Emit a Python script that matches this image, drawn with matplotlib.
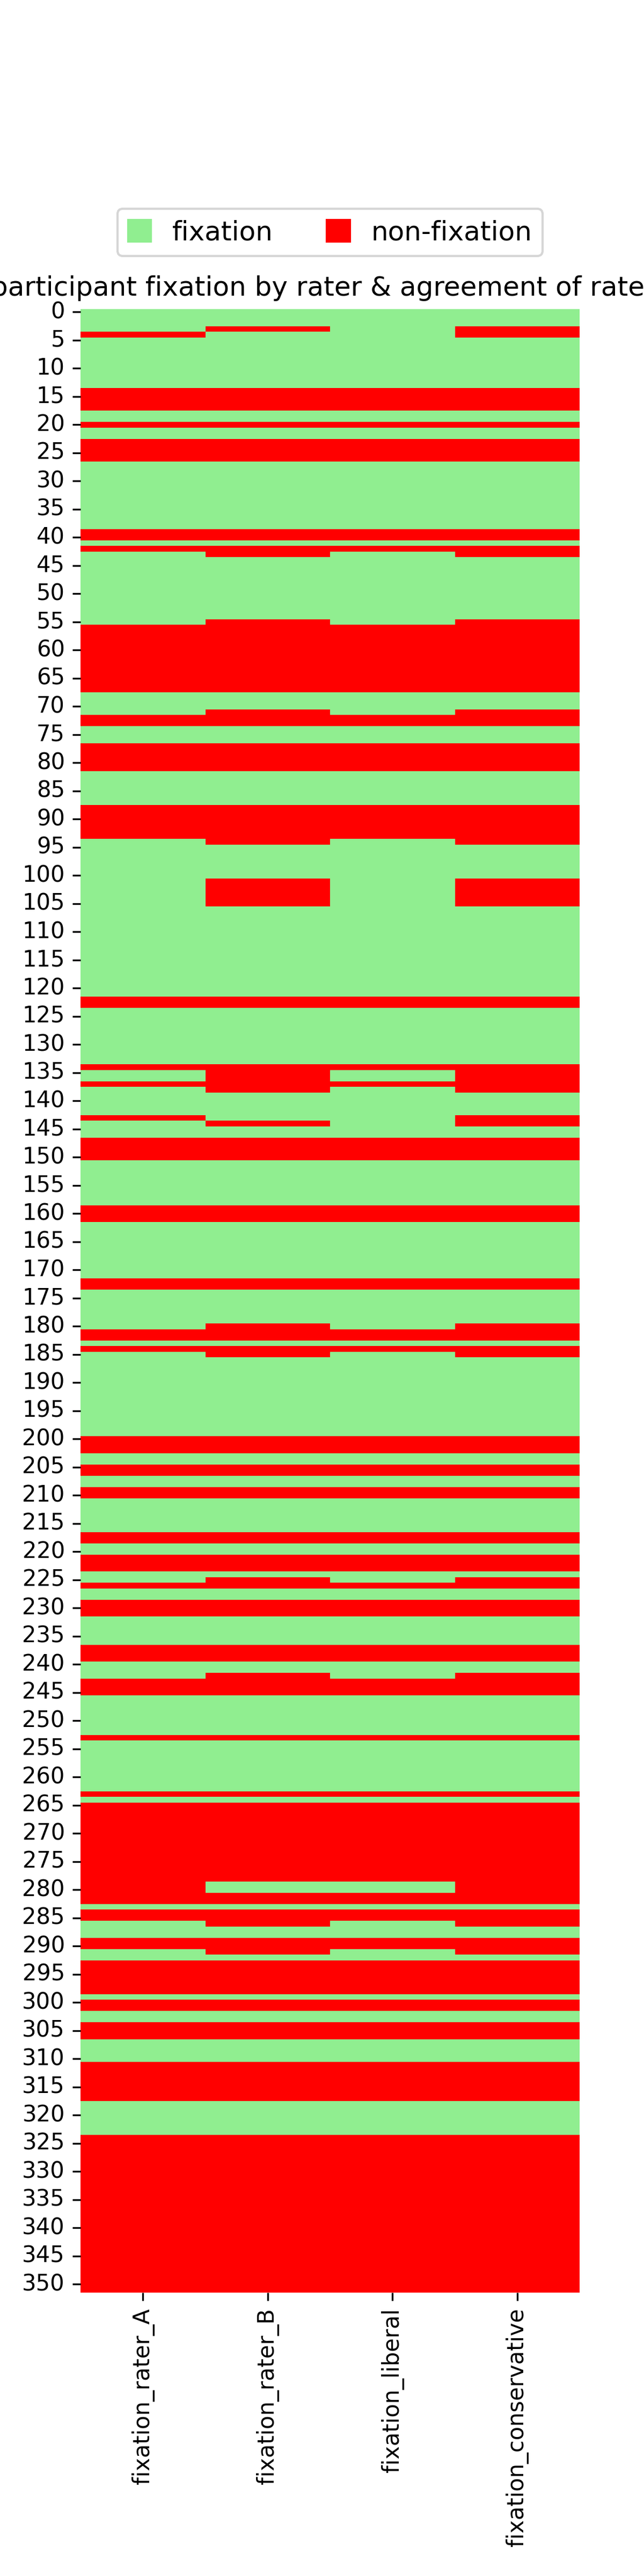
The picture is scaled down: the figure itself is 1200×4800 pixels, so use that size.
import matplotlib
matplotlib.use("Agg")
import matplotlib.pyplot as plt
import matplotlib.patches as mpatches
from matplotlib.colors import ListedColormap
import numpy as np
import pandas as pd
import seaborn as sns

# number of participants (rows)
n_rows = 352
columns = ["fixation_rater_A", "fixation_rater_B", "fixation_liberal", "fixation_conservative"]

# rows marked non-fixation (inclusive ranges), everything else is fixation
nonfix_rater_A = [(4, 4), (14, 17), (20, 20), (23, 26), (39, 40), (42, 42), (56, 67), (72, 73),
                  (77, 81), (88, 93), (122, 123), (134, 134), (137, 137), (143, 143), (147, 150),
                  (159, 161), (172, 173), (181, 182), (184, 184), (200, 202), (205, 206), (209, 210),
                  (217, 218), (221, 223), (226, 226), (229, 231), (237, 239), (243, 245), (253, 253),
                  (263, 263), (265, 282), (284, 285), (289, 290), (293, 298), (300, 301), (304, 306),
                  (311, 317), (324, 351)]
nonfix_rater_B = [(3, 3), (14, 17), (20, 20), (23, 26), (39, 40), (42, 43), (55, 67), (71, 73),
                  (77, 81), (88, 94), (101, 105), (122, 123), (134, 138), (144, 144), (147, 150),
                  (159, 161), (172, 173), (180, 182), (184, 185), (200, 202), (205, 206), (209, 210),
                  (217, 218), (221, 223), (225, 226), (229, 231), (237, 239), (242, 245), (253, 253),
                  (263, 263), (265, 278), (281, 282), (284, 286), (289, 291), (293, 298), (300, 301),
                  (304, 306), (311, 317), (324, 351)]
nonfix_liberal = [(14, 17), (20, 20), (23, 26), (39, 40), (42, 42), (56, 67), (72, 73), (77, 81),
                  (88, 93), (122, 123), (134, 134), (137, 137), (147, 150), (159, 161), (172, 173),
                  (181, 182), (184, 184), (200, 202), (205, 206), (209, 210), (217, 218), (221, 223),
                  (226, 226), (229, 231), (237, 239), (243, 245), (253, 253), (263, 263), (265, 278),
                  (281, 282), (284, 285), (289, 290), (293, 298), (300, 301), (304, 306), (311, 317),
                  (324, 351)]
nonfix_conservative = [(3, 4), (14, 17), (20, 20), (23, 26), (39, 40), (42, 43), (55, 67), (71, 73),
                       (77, 81), (88, 94), (101, 105), (122, 123), (134, 138), (143, 144), (147, 150),
                       (159, 161), (172, 173), (180, 182), (184, 185), (200, 202), (205, 206), (209, 210),
                       (217, 218), (221, 223), (225, 226), (229, 231), (237, 239), (242, 245), (253, 253),
                       (263, 263), (265, 282), (284, 286), (289, 291), (293, 298), (300, 301), (304, 306),
                       (311, 317), (324, 351)]


def to_column(ranges):
    col = np.ones(n_rows, dtype=int)  # 1 = fixation
    for a, b in ranges:
        col[a:b + 1] = 0
    return col


df = pd.DataFrame({
    columns[0]: to_column(nonfix_rater_A),
    columns[1]: to_column(nonfix_rater_B),
    columns[2]: to_column(nonfix_liberal),
    columns[3]: to_column(nonfix_conservative),
})

cmap = ListedColormap(["red", "lightgreen"])

fig, ax = plt.subplots(figsize=(4, 16), dpi=300)
sns.heatmap(df, cmap=cmap, vmin=0, vmax=1, cbar=False, yticklabels=5, ax=ax)
ax.set_title("participant fixation by rater & agreement of raters")
ax.set_xticklabels(columns, rotation=90)
ax.set_yticklabels(ax.get_yticklabels(), rotation=0)

handles = [mpatches.Patch(color="lightgreen", label="fixation"),
           mpatches.Patch(color="red", label="non-fixation")]
ax.legend(handles=handles, loc="lower center", bbox_to_anchor=(0.5, 1.02), ncol=2, fontsize=12,
          handlelength=0.85, handleheight=0.85)

fig.savefig("out.png", dpi=300)
